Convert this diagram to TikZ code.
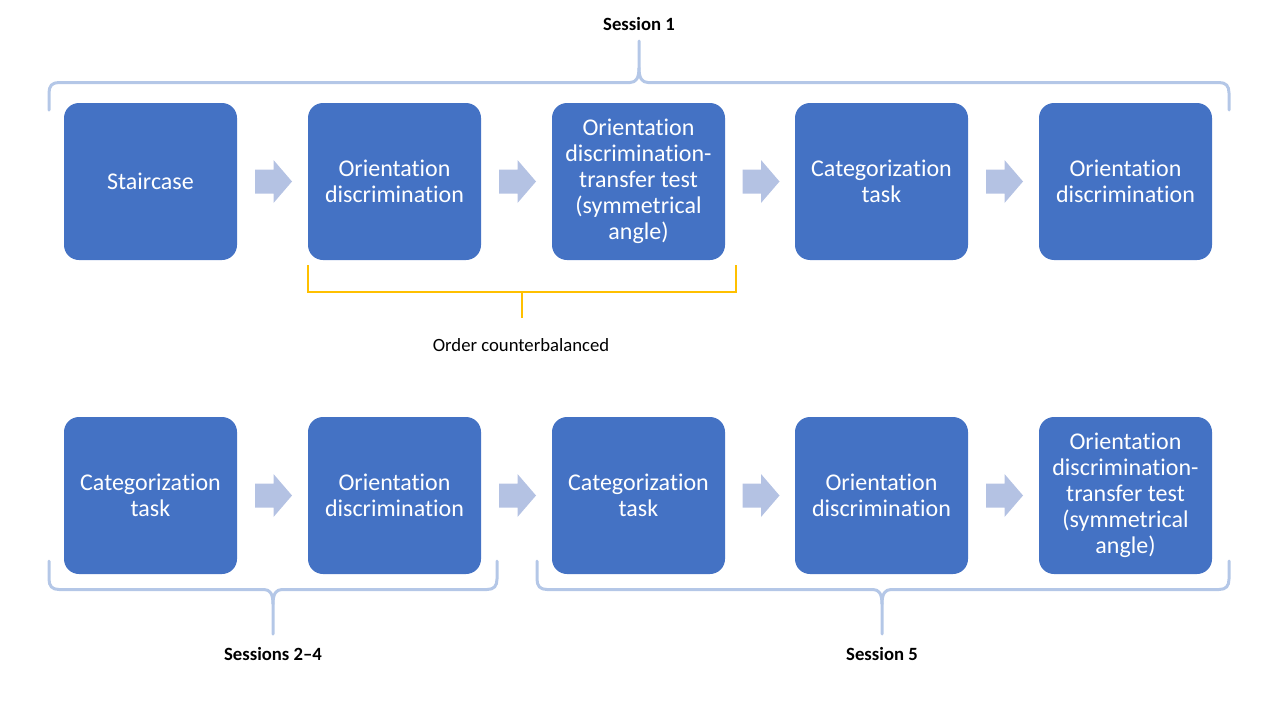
\documentclass[tikz,border=0pt]{standalone}
\usepackage{fontspec}
\setmainfont{Carlito}[RawFeature={-liga;-clig;-calt;-dlig}]
\definecolor{boxblue}{HTML}{4472C4}
\definecolor{arrowblue}{HTML}{B4C2E3}
\definecolor{braceblue}{HTML}{B4C7E7}
\definecolor{gold}{HTML}{FFC000}
\tikzset{
  stagebox/.style={rectangle, rounded corners=15pt, fill=boxblue, draw=none,
    minimum width=173pt, minimum height=157pt, inner sep=0pt, text=white,
    align=center, font=\fontsize{24}{26}\selectfont},
  stagearrow/.style={fill=arrowblue, draw=none},
  bracepath/.style={draw=braceblue, line width=3pt, line join=round, line cap=round},
  goldpath/.style={draw=gold, line width=2.5pt},
  labelbold/.style={font=\fontsize{18.7}{22}\selectfont\bfseries, text=black, inner sep=0pt},
  labelreg/.style={font=\fontsize{18.7}{22}\selectfont, text=black, inner sep=0pt}
}
\newcommand{\stagearrowat}[1]{%
  \fill[stagearrow, shift={(#1)}] (-18.5,-12) -- (0,-12) -- (0,-21.5) -- (18.5,0)
    -- (0,21.5) -- (0,12) -- (-18.5,12) -- cycle;}
\begin{document}
\begin{tikzpicture}[x=1pt, y=-1pt]
\useasboundingbox (0,0) rectangle (1280,720);
% top row
\node[stagebox] (a1) at (150.5,181.5) {Staircase};
\node[stagebox] (a2) at (394.5,181.5) {Orientation\\discrimination};
\node[stagebox] (a3) at (638.5,181.5) {Orientation\\discrimination-\\transfer test\\(symmetrical\\angle)};
\node[stagebox] (a4) at (881.5,181.5) {Categorization\\task};
\node[stagebox] (a5) at (1125.5,181.5) {Orientation\\discrimination};
\coordinate (r1) at (273.5,181.5);
\coordinate (r2) at (517.5,181.5);
\coordinate (r3) at (761,181.5);
\coordinate (r4) at (1004.5,181.5);
\stagearrowat{r1}\stagearrowat{r2}\stagearrowat{r3}\stagearrowat{r4}
% bottom row
\node[stagebox] (b1) at (150.5,495.5) {Categorization\\task};
\node[stagebox] (b2) at (394.5,495.5) {Orientation\\discrimination};
\node[stagebox] (b3) at (638.5,495.5) {Categorization\\task};
\node[stagebox] (b4) at (881.5,495.5) {Orientation\\discrimination};
\node[stagebox] (b5) at (1125.5,495.5) {Orientation\\discrimination-\\transfer test\\(symmetrical\\angle)};
\coordinate (s1) at (273.5,495.5);
\coordinate (s2) at (517.5,495.5);
\coordinate (s3) at (761,495.5);
\coordinate (s4) at (1004.5,495.5);
\stagearrowat{s1}\stagearrowat{s2}\stagearrowat{s3}\stagearrowat{s4}
% top brace
\path[bracepath] (49,110) -- (49,93) .. controls (49,86) and (52,82.5) .. (59,82.5) -- (630,82.5)
  .. controls (636,82.5) and (639,78) .. (639,68) -- (639,41);
\path[bracepath] (639,68) .. controls (639,78) and (642,82.5) .. (648,82.5) -- (1219,82.5)
  .. controls (1226,82.5) and (1229,86) .. (1229,93) -- (1229,110);
\node[labelbold] (l1) at (639,24) {Session 1};
% gold bracket
\path[goldpath] (308,265) -- (308,292) -- (736,292) -- (736,265);
\path[goldpath] (522,292) -- (522,318);
\node[labelreg] (l2) at (521,345) {Order counterbalanced};
% bottom left brace
\path[bracepath] (49,561) -- (49,579) .. controls (49,586) and (52,589.5) .. (59,589.5) -- (264,589.5)
  .. controls (270,589.5) and (273,594) .. (273,604) -- (273,634);
\path[bracepath] (273,604) .. controls (273,594) and (276,589.5) .. (282,589.5) -- (487,589.5)
  .. controls (494,589.5) and (497,586) .. (497,579) -- (497,561);
\node[labelbold] (l3) at (273,654) {Sessions 2--4};
% bottom right brace
\path[bracepath] (537,561) -- (537,579) .. controls (537,586) and (540,589.5) .. (547,589.5) -- (873,589.5)
  .. controls (879,589.5) and (882,594) .. (882,604) -- (882,634);
\path[bracepath] (882,604) .. controls (882,594) and (885,589.5) .. (891,589.5) -- (1219,589.5)
  .. controls (1226,589.5) and (1229,586) .. (1229,579) -- (1229,561);
\node[labelbold] (l4) at (882,654) {Session 5};
\end{tikzpicture}
\end{document}
